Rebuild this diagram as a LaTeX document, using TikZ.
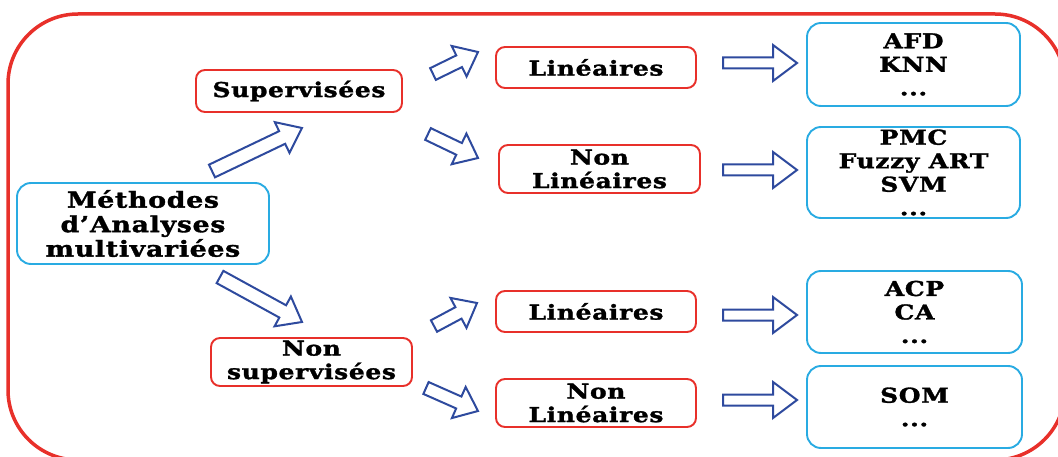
\documentclass[tikz,border=0pt]{standalone}
\usepackage{fontspec}
\setmainfont{DejaVu Serif}[FakeStretch=1.22, LetterSpace=3, BoldFeatures={FakeBold=1.5}]
\usetikzlibrary{calc}

\definecolor{framered}{RGB}{232,48,42}
\definecolor{boxcyan}{RGB}{41,171,226}
\definecolor{arrowblue}{RGB}{46,74,158}

\tikzset{
  catbox/.style={draw=framered, line width=1.9pt, rounded corners=9pt,
    align=center, inner sep=0pt, font=\bfseries\fontsize{20.5}{23.5}\selectfont},
  algobox/.style={catbox, draw=boxcyan, rounded corners=14pt},
  fatline/.style={draw=arrowblue, line width=2pt, fill=white}
}

% hollow block arrow: #1 tail, #2 tip, #3 half body, #4 half head, #5 head length
\newcommand\fatarrow[5]{%
  \path ($(#2)!#5!(#1)$) coordinate (hb);
  \draw[fatline] ($(#1)!#3!90:(#2)$) -- ($(hb)!#3!90:(#2)$)
    -- ($(hb)!#4!90:(#2)$) -- (#2) -- ($(hb)!#4!-90:(#2)$)
    -- ($(hb)!#3!-90:(#2)$) -- ($(#1)!#3!-90:(#2)$) -- cycle;
}

\begin{document}
\begin{tikzpicture}[x=1pt, y=-1pt]
  \useasboundingbox (0,0) rectangle (1058,457);
  % outer frame
  \draw[framered, line width=3.5pt, rounded corners=70pt] (8,14) rectangle (1065,460);

  % boxes
  \node[algobox, minimum width=252, minimum height=81,
    font=\bfseries\fontsize{22}{24.5}\selectfont]
    (methodes) at (143,223.5) {Méthodes\\d’Analyses\\multivariées};
  \node[catbox, minimum width=206, minimum height=42] (sup) at (299,91) {Supervisées};
  \node[catbox, minimum width=201, minimum height=48] (nonsup) at (311.5,362) {Non\\supervisées};

  \node[catbox, minimum width=200, minimum height=41] (sup-lin) at (596,67.5) {Linéaires};
  \node[catbox, minimum width=201, minimum height=48] (sup-nlin) at (599.5,169) {Non\\Linéaires};
  \node[catbox, minimum width=200, minimum height=41] (nsup-lin) at (596,311.5) {Linéaires};
  \node[catbox, minimum width=200, minimum height=48] (nsup-nlin) at (596,403) {Non\\Linéaires};

  \node[algobox, minimum width=213, minimum height=83] (afd) at (913.5,64.5) {AFD\\KNN\\...};
  \node[algobox, minimum width=213, minimum height=91] (pmc) at (913.5,172.5) {PMC\\Fuzzy ART\\SVM\\...};
  \node[algobox, minimum width=215, minimum height=82] (acp) at (914.5,312) {ACP\\CA\\...};
  \node[algobox, minimum width=215, minimum height=82] (som) at (914.5,407) {SOM\\...};

  % arrow ends
  \coordinate (a1) at (212,171);  \coordinate (b1) at (302,128);
  \coordinate (a2) at (220,277);  \coordinate (b2) at (302,322);
  \coordinate (a3) at (433,74);   \coordinate (b3) at (478,52);
  \coordinate (a4) at (428,134);  \coordinate (b4) at (478,158);
  \coordinate (a5) at (434,326);  \coordinate (b5) at (477,303);
  \coordinate (a6) at (426,388);  \coordinate (b6) at (478,411);

  \fatarrow{a1}{b1}{7pt}{17pt}{22pt}
  \fatarrow{a2}{b2}{7pt}{17pt}{22pt}
  \foreach \i in {3,...,6}
  {
    \fatarrow{a\i}{b\i}{6.5pt}{17pt}{21pt}
  }
  \foreach \y in {63,170,315,400}
  {
    \coordinate (t) at (723,\y);
    \coordinate (p) at (797,\y);
    \fatarrow{t}{p}{5.5pt}{18pt}{24pt}
  }
\end{tikzpicture}
\end{document}
